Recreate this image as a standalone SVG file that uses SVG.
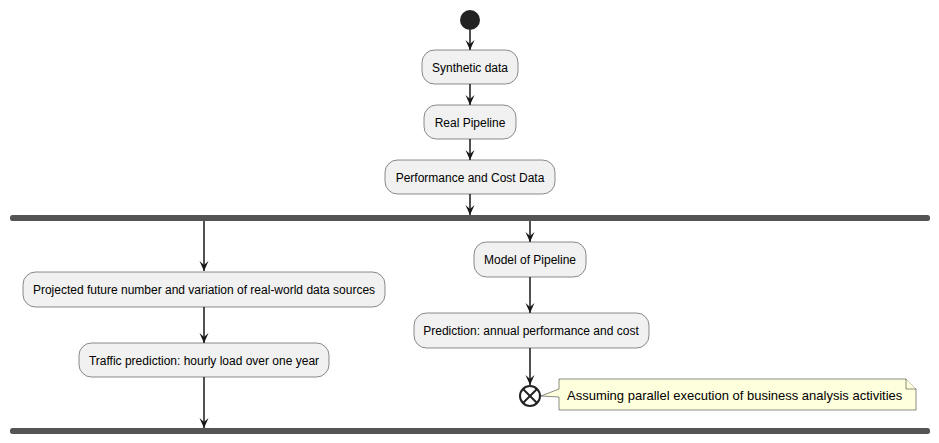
<svg xmlns="http://www.w3.org/2000/svg" width="939" height="443" viewBox="0 0 939 443">
<style>
.box{fill:#F1F1F1;stroke:#181818;stroke-width:0.5}
.lbl{font-family:"Liberation Sans",Arial,sans-serif;font-size:12px;fill:#000000;text-anchor:middle}
.bar{fill:#555555;stroke:none}
.ln{stroke:#181818;stroke-width:1.5;fill:none}
.note{fill:#FEFFDD;stroke:#181818;stroke-width:0.5}
.ntxt{font-family:"Liberation Sans",Arial,sans-serif;font-size:13px;fill:#000000}
.endc{stroke:#222222;stroke-width:2}
</style>
<defs>
<marker id="ah" markerUnits="userSpaceOnUse" viewBox="0 0 10 10" refX="10" refY="5" markerWidth="10" markerHeight="10" orient="auto">
<path d="M0,0.5 L10,5 L0,9.5 L4,5 Z" fill="#181818"/>
</marker>
</defs>
<rect width="939" height="443" fill="#FFFFFF"/>
<g id="connectors">
<line class="ln" x1="470" y1="30" x2="470" y2="50" marker-end="url(#ah)"/>
<line class="ln" x1="470" y1="84" x2="470" y2="105" marker-end="url(#ah)"/>
<line class="ln" x1="470" y1="139" x2="470" y2="160" marker-end="url(#ah)"/>
<line class="ln" x1="470" y1="194" x2="470" y2="215" marker-end="url(#ah)"/>
<line class="ln" x1="204" y1="221" x2="204" y2="271" marker-end="url(#ah)"/>
<line class="ln" x1="204" y1="307" x2="204" y2="343" marker-end="url(#ah)"/>
<line class="ln" x1="204" y1="377" x2="204" y2="428" marker-end="url(#ah)"/>
<line class="ln" x1="530" y1="221" x2="530" y2="242" marker-end="url(#ah)"/>
<line class="ln" x1="530" y1="277" x2="530" y2="313" marker-end="url(#ah)"/>
<line class="ln" x1="530" y1="348" x2="530" y2="385" marker-end="url(#ah)"/>
</g>
<g id="start"><circle cx="470" cy="20" r="10" fill="#222222"/></g>
<g id="synthetic"><rect class="box" x="422" y="50" width="96" height="34" rx="12.5"/><text class="lbl" x="470" y="71.5">Synthetic data</text></g>
<g id="real"><rect class="box" x="424" y="105" width="92" height="34" rx="12.5"/><text class="lbl" x="470" y="126.5">Real Pipeline</text></g>
<g id="perf"><rect class="box" x="385" y="160" width="170" height="34" rx="12.5"/><text class="lbl" x="470" y="181.5">Performance and Cost Data</text></g>
<g id="fork"><rect class="bar" x="10" y="215" width="920" height="6" rx="2.5"/></g>
<g id="projected"><rect class="box" x="23" y="272" width="362" height="35" rx="12.5"/><text class="lbl" x="204" y="294">Projected future number and variation of real-world data sources</text></g>
<g id="traffic"><rect class="box" x="79" y="343" width="250" height="34" rx="12.5"/><text class="lbl" x="204" y="364.5">Traffic prediction: hourly load over one year</text></g>
<g id="model"><rect class="box" x="474" y="242" width="112" height="35" rx="12.5"/><text class="lbl" x="530" y="264">Model of Pipeline</text></g>
<g id="prediction"><rect class="box" x="414" y="313" width="235" height="35" rx="12.5"/><text class="lbl" x="531" y="335">Prediction: annual performance and cost</text></g>
<g id="end"><circle class="endc" cx="530" cy="396" r="10" fill="#FFFFFF"/><line class="endc" x1="523" y1="389" x2="537" y2="403"/><line class="endc" x1="537" y1="389" x2="523" y2="403"/></g>
<g id="note"><path class="note" d="M559,379 L906,379 L916,389 L916,410 L559,410 L559,397 L541,396 L559,389 Z"/><path class="note" d="M906,379 L906,389 L916,389" fill="none"/><text class="ntxt" x="567" y="400">Assuming parallel execution of business analysis activities</text></g>
<g id="join"><rect class="bar" x="10" y="428" width="920" height="6" rx="2.5"/></g>
</svg>
